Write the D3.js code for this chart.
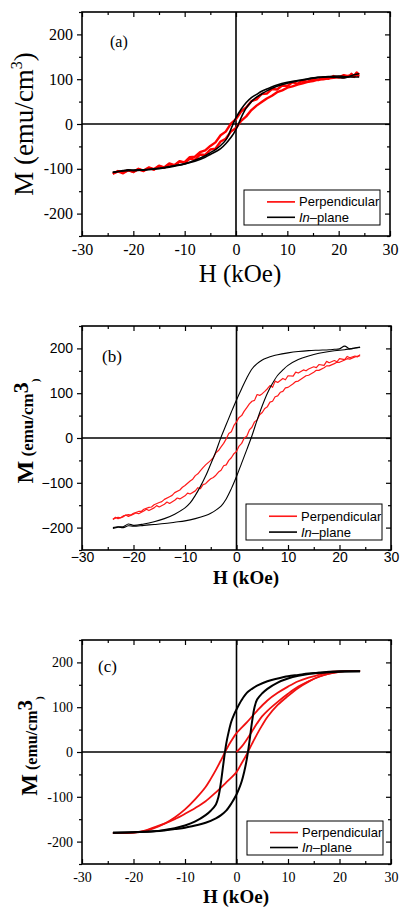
<!DOCTYPE html>
<html>
<head>
<meta charset="utf-8">
<script src="https://cdn.jsdelivr.net/npm/d3@7/dist/d3.min.js"></script>
<style>
  body { margin: 0; background: #fff; }
</style>
</head>
<body>
<svg id="fig" width="400" height="911"></svg>
<script>
// axis values shared by the three panels
var fieldTicks = [-30, -20, -10, 0, 10, 20, 30];
var fieldMinor = [-25, -15, -5, 5, 15, 25];
var momentTicks = [-200, -100, 0, 100, 200];
var momentMinor = [-250, -150, -50, 50, 150, 250];
var seriesNames = ["Perpendicular", "In-plane"];

// (a) loops, [H kOe, M emu/cm3]
var aInPlaneDown = [[24,112],[23,110],[22,106],[21,103],[20,104],[18,105],[16,104],[14,101],[12,97],[10,93],[8,87],[6,78],[5,73],[4,66],[3,59],[2,48],[1,33],[0.5,24],[0,14],[-0.5,2],[-1,-12],[-1.5,-26],[-2,-36],[-3,-48],[-4,-57],[-5,-64],[-6,-71],[-8,-81],[-10,-89],[-12,-94],[-14,-98],[-16,-101],[-18,-103],[-20,-104],[-21,-102],[-22,-104],[-23,-106],[-24,-108]];
var aInPlaneUp = [[-24,-108],[-22,-105],[-20,-103],[-18,-102],[-16,-100],[-14,-97],[-12,-93],[-10,-89],[-8,-83],[-6,-74],[-5,-68],[-4,-62],[-3,-55],[-2,-44],[-1,-30],[-0.5,-22],[0,-12],[0.5,0],[1,14],[1.5,26],[2,36],[3,50],[4,60],[5,67],[6,74],[8,84],[10,91],[12,96],[14,100],[16,104],[18,106],[20,107],[21,106],[22,105],[23,105],[24,105]];
var aPerpDown = [[24,110],[23.5,115],[23,107],[22.5,112],[22,106],[21,109],[20,104],[19,107],[18,101],[17,104],[16,98],[15,101],[14,94],[13,97],[12,90],[11,93],[10,85],[9,86],[8,77],[7,78],[6,68],[5,67],[4,55],[3,51],[2,37],[1,28],[0,11],[-1,1],[-2,-17],[-3,-25],[-4,-41],[-5,-49],[-6,-59],[-7,-63],[-8,-73],[-9,-74],[-10,-85],[-11,-84],[-12,-93],[-13,-90],[-14,-98],[-15,-94],[-16,-102],[-17,-98],[-18,-105],[-19,-101],[-20,-107],[-21,-103],[-22,-108],[-23,-105],[-24,-111]];
var aPerpUp = [[-24,-111],[-23,-106],[-22,-110],[-21,-103],[-20,-107],[-19,-100],[-18,-104],[-17,-97],[-16,-101],[-15,-93],[-14,-97],[-13,-88],[-12,-92],[-11,-83],[-10,-87],[-9,-77],[-8,-80],[-7,-68],[-6,-69],[-5,-57],[-4,-55],[-3,-39],[-2,-33],[-1,-17],[0,-9],[1,7],[2,17],[3,31],[4,41],[5,49],[6,57],[7,63],[8,71],[9,75],[10,81],[11,84],[12,88],[13,91],[14,94],[15,96],[16,99],[17,100],[18,102],[19,103],[20,105],[21,104],[22,108],[23,105],[23.5,110],[24,106]];

// (b) loops
var bInPlaneDown = [[24,203],[23,201],[22,199],[21,205],[20,199],[19,198],[18,197],[16,196],[14,195],[12,193],[10,190],[8,186],[7,183],[6,179],[5,174],[4,166],[3,154],[2,134],[1,110],[0,85],[-1,58],[-2,30],[-3,2],[-4,-30],[-5,-58],[-6,-85],[-7,-108],[-8,-128],[-9,-145],[-10,-156],[-12,-170],[-14,-180],[-16,-187],[-18,-192],[-20,-195],[-21,-192],[-22,-198],[-23,-198],[-24,-200]];
var bInPlaneUp = [[-24,-202],[-23,-199],[-22,-200],[-21,-196],[-20,-197],[-18,-195],[-16,-193],[-14,-191],[-12,-188],[-10,-185],[-8,-180],[-6,-173],[-5,-168],[-4,-161],[-3,-152],[-2,-136],[-1,-113],[0,-86],[1,-56],[2,-26],[3,5],[4,40],[5,72],[6,100],[7,122],[8,140],[9,152],[10,162],[12,175],[14,183],[16,189],[18,193],[20,196],[21,197],[22,199],[23,201],[24,202]];
var bPerpDown = [[24,186],[23.5,181],[23,183],[22,179],[21.5,182],[21,175],[20,177],[19.5,170],[19,173],[18,168],[17.5,171],[17,162],[16,164],[15.5,157],[15,159],[14,154],[13.5,150],[13,152],[12,145],[11.5,147],[11,138],[10,139],[9.5,130],[9,133],[8,124],[7.5,127],[7,113],[6.5,117],[6,110],[5.5,104],[5,99],[4.5,95],[4,97],[3.5,84],[3,82],[2.5,76],[2,68],[1.5,60],[1,50],[0.5,46],[0,36],[-0.5,28],[-1,14],[-1.5,10],[-2,-2],[-2.5,-12],[-3,-20],[-3.5,-28],[-4,-33],[-4.5,-44],[-5,-50],[-6,-60],[-6.5,-66],[-7,-73],[-7.5,-80],[-8,-84],[-8.5,-92],[-9,-96],[-10,-106],[-10.5,-110],[-11,-116],[-12,-122],[-12.5,-128],[-13,-131],[-14,-137],[-14.5,-142],[-15,-144],[-16,-149],[-16.5,-154],[-17,-155],[-18,-159],[-18.5,-164],[-19,-164],[-20,-168],[-20.5,-172],[-21,-171],[-22,-174],[-22.5,-178],[-23,-177],[-24,-181]];
var bPerpUp = [[-24,-182],[-23.5,-177],[-23,-180],[-22,-176],[-21.5,-172],[-21,-175],[-20,-170],[-19.5,-167],[-19,-169],[-18,-163],[-17.5,-159],[-17,-162],[-16,-156],[-15.5,-151],[-15,-154],[-14,-148],[-13.5,-143],[-13,-146],[-12,-139],[-11.5,-134],[-11,-136],[-10,-129],[-9.5,-123],[-9,-125],[-8,-118],[-7.5,-111],[-7,-113],[-6.5,-104],[-6,-102],[-5.5,-96],[-5,-91],[-4.5,-88],[-4,-83],[-3.5,-76],[-3,-72],[-2.5,-62],[-2,-60],[-1.5,-50],[-1,-44],[-0.5,-35],[0,-30],[0.5,-18],[1,-12],[1.5,0],[2,4],[2.5,18],[3,24],[3.5,36],[4,40],[4.5,52],[5,57],[5.5,66],[6,70],[6.5,80],[7,82],[7.5,92],[8,94],[8.5,102],[9,104],[9.5,112],[10,113],[11,121],[11.5,126],[12,127],[13,135],[13.5,139],[14,140],[15,147],[15.5,151],[16,151],[17,157],[17.5,161],[18,161],[19,166],[19.5,169],[20,169],[21,174],[21.5,177],[22,176],[23,181],[24,184]];

// (c) loops
var cInPlaneDown = [[24,180],[22,180],[20,180],[18,179],[16,177],[14,175],[12,172],[10,169],[8,164],[6,158],[4,148],[3,141],[2,132],[1,116],[0,95],[-0.5,83],[-1,68],[-1.5,46],[-2,18],[-2.5,-22],[-3,-66],[-3.5,-100],[-4,-117],[-5,-131],[-6,-141],[-8,-155],[-10,-164],[-12,-170],[-14,-174],[-16,-177],[-20,-179],[-24,-180]];
var cInPlaneUp = [[-24,-180],[-20,-179],[-16,-177],[-14,-175],[-12,-172],[-10,-169],[-8,-164],[-6,-158],[-4,-148],[-3,-141],[-2,-131],[-1,-115],[0,-95],[0.5,-82],[1,-66],[1.5,-44],[2,-16],[2.5,22],[3,66],[3.5,100],[4,117],[5,131],[6,141],[8,155],[10,164],[12,170],[14,174],[16,177],[20,179],[24,180]];
var cPerpDown = [[24,181],[22,181],[20,180],[18,178],[16,172],[14,166],[12,158],[10,146],[8,132],[6,115],[4,92],[2,66],[0,42],[-1,25],[-2,5],[-3,-18],[-4,-40],[-5,-60],[-6,-78],[-8,-105],[-10,-128],[-12,-146],[-14,-160],[-16,-170],[-18,-177],[-20,-180],[-22,-181],[-24,-181]];
var cPerpUp = [[-24,-181],[-22,-181],[-20,-180],[-18,-176],[-16,-168],[-14,-160],[-12,-150],[-10,-138],[-8,-125],[-6,-110],[-4,-90],[-2,-68],[0,-45],[1,-25],[2,-5],[3,18],[4,40],[5,60],[6,78],[8,105],[10,125],[12,143],[14,157],[16,168],[18,175],[20,179],[22,181],[24,181]];
var cPerpInitial = [[0,0],[1,12],[2,28],[3,46],[4,64],[5,80],[6,92],[8,112],[10,130],[12,146],[14,158],[16,168],[18,175],[20,179]];

var svg = d3.select("#fig");
svg.append("rect").attr("width", 400).attr("height", 911).attr("fill", "#fff");

var panels = [
  {
    tag: "(a)", tagX: 110, tagY: 47, tagSize: 16,
    left: 82, right: 390, top: 12, bottom: 236,
    tickFont: "Liberation Serif", tickSize: 16, tickPad: 8, minus: "-",
    bold: false,
    yLabel: { x: 33, y: 124, parts: [["M (emu/cm", 27, 0], ["3", 16, -11], [")", 27, 11]] },
    xLabel: { x: 240, y: 282, size: 25 },
    redW: 2.4, blackW: 1.6, red: "#ff0000",
    black: [aInPlaneDown, aInPlaneUp], redLines: [aPerpDown, aPerpUp], smoothRed: false,
    legend: { x: 244, y: 190, w: 136, h: 35 }
  },
  {
    tag: "(b)", tagX: 102, tagY: 362, tagSize: 17,
    left: 82, right: 391, top: 326, bottom: 550,
    tickFont: "Liberation Sans", tickSize: 14, tickPad: 2, minus: "\u2212",
    bold: true,
    yLabel: { x: 33, y: 431, parts: [["M", 24, 0], [" (emu/cm", 17, 0], ["3", 22, -5], [")", 11, 11]] },
    xLabel: { x: 246, y: 584, size: 19 },
    redW: 1.2, blackW: 1.1, red: "#ff1a1a",
    black: [bInPlaneDown, bInPlaneUp], redLines: [bPerpDown, bPerpUp], smoothRed: false,
    legend: { x: 246, y: 504, w: 136, h: 36 }
  },
  {
    tag: "(c)", tagX: 98, tagY: 672, tagSize: 17,
    left: 82, right: 391, top: 640, bottom: 864,
    tickFont: "Liberation Serif", tickSize: 14, tickPad: 8, minus: "-",
    bold: true,
    yLabel: { x: 37, y: 746, parts: [["M", 23, 0], [" (emu/cm", 16, 0], ["3", 21, -5], [")", 11, 11]] },
    xLabel: { x: 236, y: 903, size: 19 },
    redW: 1.8, blackW: 2, red: "#f01010",
    black: [cInPlaneDown, cInPlaneUp], redLines: [cPerpDown, cPerpUp, cPerpInitial], smoothRed: true,
    legend: { x: 247, y: 821, w: 136, h: 34 }
  }
];

panels.forEach(drawPanel);

function drawPanel(p) {
  var x = d3.scaleLinear().domain([-30, 30]).range([p.left, p.right]);
  var y = d3.scaleLinear().domain([-250, 250]).range([p.bottom, p.top]);
  var g = svg.append("g");

  var fmt = function(d) { return d < 0 ? p.minus + Math.abs(d) : String(d); };

  // zero lines
  g.append("line").attr("x1", x(0)).attr("x2", x(0)).attr("y1", p.top).attr("y2", p.bottom)
    .attr("stroke", "#000").attr("stroke-width", 1.6);
  g.append("line").attr("x1", p.left).attr("x2", p.right).attr("y1", y(0)).attr("y2", y(0))
    .attr("stroke", "#000").attr("stroke-width", 1.6);

  var smooth = d3.line().x(function(d) { return x(d[0]); }).y(function(d) { return y(d[1]); })
    .curve(d3.curveCatmullRom.alpha(0.5));
  var rough = d3.line().x(function(d) { return x(d[0]); }).y(function(d) { return y(d[1]); });

  p.redLines.forEach(function(s) {
    g.append("path").attr("d", (p.smoothRed ? smooth : rough)(s))
      .attr("fill", "none").attr("stroke", p.red).attr("stroke-width", p.redW)
      .attr("stroke-linejoin", "round");
  });
  p.black.forEach(function(s) {
    g.append("path").attr("d", smooth(s))
      .attr("fill", "none").attr("stroke", "#000").attr("stroke-width", p.blackW);
  });

  // axes
  var tickStyle = function(sel) {
    sel.attr("font-family", null).attr("font-size", null);
    sel.select(".domain").remove();
    sel.selectAll("line").attr("stroke", "#000").attr("stroke-width", 1.2);
    sel.selectAll("text")
      .style("font-family", "'" + p.tickFont + "'")
      .style("font-size", p.tickSize + "px")
      .attr("fill", "#000");
  };
  g.append("g").attr("transform", "translate(0," + p.bottom + ")")
    .call(d3.axisBottom(x).tickValues(fieldTicks).tickSize(-5).tickPadding(p.tickPad).tickFormat(fmt))
    .call(tickStyle);
  g.append("g").attr("transform", "translate(0," + p.bottom + ")")
    .call(d3.axisBottom(x).tickValues(fieldMinor).tickSize(-3).tickFormat(""))
    .call(tickStyle);
  g.append("g").attr("transform", "translate(0," + p.top + ")")
    .call(d3.axisTop(x).tickValues(fieldTicks).tickSize(-5).tickFormat(""))
    .call(tickStyle);
  g.append("g").attr("transform", "translate(0," + p.top + ")")
    .call(d3.axisTop(x).tickValues(fieldMinor).tickSize(-3).tickFormat(""))
    .call(tickStyle);
  g.append("g").attr("transform", "translate(" + p.left + ",0)")
    .call(d3.axisLeft(y).tickValues(momentTicks).tickSize(5).tickPadding(4).tickFormat(fmt))
    .call(tickStyle);
  g.append("g").attr("transform", "translate(" + p.left + ",0)")
    .call(d3.axisLeft(y).tickValues(momentMinor).tickSize(3).tickFormat(""))
    .call(tickStyle);
  g.append("g").attr("transform", "translate(" + p.right + ",0)")
    .call(d3.axisRight(y).tickValues(momentTicks).tickSize(-5).tickFormat(""))
    .call(tickStyle);
  g.append("g").attr("transform", "translate(" + p.right + ",0)")
    .call(d3.axisRight(y).tickValues(momentMinor).tickSize(-3).tickFormat(""))
    .call(tickStyle);

  // frame
  g.append("rect").attr("x", p.left).attr("y", p.top)
    .attr("width", p.right - p.left).attr("height", p.bottom - p.top)
    .attr("fill", "none").attr("stroke", "#000").attr("stroke-width", 1.6);

  // panel tag
  g.append("text").attr("x", p.tagX).attr("y", p.tagY)
    .attr("font-family", "Liberation Serif").attr("font-size", p.tagSize).text(p.tag);

  // axis titles
  var yl = g.append("text")
    .attr("transform", "translate(" + p.yLabel.x + "," + p.yLabel.y + ") rotate(-90)")
    .attr("text-anchor", "middle")
    .attr("font-family", "Liberation Serif")
    .attr("font-weight", p.bold ? "bold" : "normal");
  p.yLabel.parts.forEach(function(part) {
    yl.append("tspan").attr("font-size", part[1]).attr("dy", part[2]).text(part[0]);
  });
  g.append("text").attr("x", p.xLabel.x).attr("y", p.xLabel.y)
    .attr("text-anchor", "middle")
    .attr("font-family", "Liberation Serif")
    .attr("font-weight", p.bold ? "bold" : "normal")
    .attr("font-size", p.xLabel.size)
    .text("H (kOe)");

  // legend
  var L = p.legend;
  var lg = g.append("g").attr("transform", "translate(" + L.x + "," + L.y + ")");
  lg.append("rect").attr("width", L.w).attr("height", L.h)
    .attr("fill", "#fff").attr("stroke", "#000").attr("stroke-width", 1);
  var rowY = [L.h * 0.34, L.h * 0.78];
  [p.red, "#000"].forEach(function(c, i) {
    lg.append("line").attr("x1", 23).attr("x2", 51).attr("y1", rowY[i]).attr("y2", rowY[i])
      .attr("stroke", c).attr("stroke-width", 1.6);
  });
  lg.append("text").attr("x", 55).attr("y", rowY[0] + 4.5)
    .attr("font-family", "Liberation Sans").attr("font-size", 13).text(seriesNames[0]);
  var t2 = lg.append("text").attr("x", 55).attr("y", rowY[1] + 4.5)
    .attr("font-family", "Liberation Sans").attr("font-size", 13);
  t2.append("tspan").attr("font-style", "italic").text("In");
  t2.append("tspan").text("\u2013plane");
}
</script>
</body>
</html>
